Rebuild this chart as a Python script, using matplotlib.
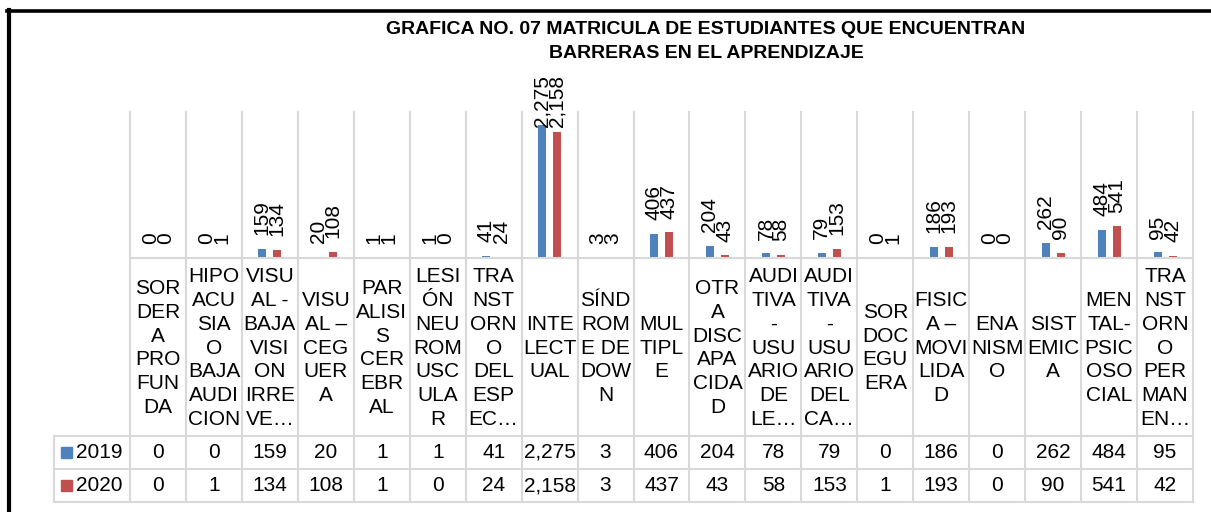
import matplotlib
matplotlib.use("Agg")
import matplotlib.pyplot as plt
from matplotlib.lines import Line2D
from matplotlib.patches import Rectangle

plt.rcParams['font.family'] = ['Liberation Sans', 'DejaVu Sans']

# ---------------- data ----------------
categories = [
    "SOR\nDER\nA\nPRO\nFUN\nDA",
    "HIPO\nACU\nSIA\nO\nBAJA\nAUDI\nCION",
    "VISU\nAL -\nBAJA\nVISI\nON\nIRRE\nVE…",
    "VISU\nAL –\nCEG\nUER\nA",
    "PAR\nALISI\nS\nCER\nEBR\nAL",
    "LESI\nÓN\nNEU\nROM\nUSC\nULA\nR",
    "TRA\nNST\nORN\nO\nDEL\nESP\nEC…",
    "INTE\nLECT\nUAL",
    "SÍND\nROM\nE DE\nDOW\nN",
    "MUL\nTIPL\nE",
    "OTR\nA\nDISC\nAPA\nCIDA\nD",
    "AUDI\nTIVA\n-\nUSU\nARIO\nDE\nLE…",
    "AUDI\nTIVA\n-\nUSU\nARIO\nDEL\nCA…",
    "SOR\nDOC\nEGU\nERA",
    "FISIC\nA –\nMOVI\nLIDA\nD",
    "ENA\nNISM\nO",
    "SIST\nEMIC\nA",
    "MEN\nTAL-\nPSIC\nOSO\nCIAL",
    "TRA\nNST\nORN\nO\nPER\nMAN\nEN…",
]
series_names = ["2019", "2020"]
values_2019 = [0, 0, 159, 20, 1, 1, 41, 2275, 3, 406, 204, 78, 79, 0, 186, 0, 262, 484, 95]
values_2020 = [0, 1, 134, 108, 1, 0, 24, 2158, 3, 437, 43, 58, 153, 1, 193, 0, 90, 541, 42]
title_lines = ["GRAFICA NO. 07 MATRICULA DE ESTUDIANTES QUE ENCUENTRAN",
               "BARRERAS EN EL APRENDIZAJE"]

colors = ["#4F81BD", "#C0504D"]
grid_c = "#D9D9D9"

W, H, DPI = 1211, 512, 100
fig = plt.figure(figsize=(W / DPI, H / DPI), dpi=DPI)
fig.patch.set_facecolor("white")

n = len(categories)
x_left, x_right = 130, 1193
col_w = (x_right - x_left) / n
plot_top, plot_bot = 112, 258
row_lab_bot, row1_bot, row2_bot = 436, 469, 502
leg_left = 54

# ---------------- plot area ----------------
ax = fig.add_axes([x_left / W, 1 - plot_bot / H, (x_right - x_left) / W, (plot_bot - plot_top) / H])
ax.set_xlim(0, n)
ax.set_ylim(0, 2500)
ax.axis("off")
for i in range(n + 1):
    ax.plot([i, i], [0, 2500], color=grid_c, lw=1.5, zorder=0, clip_on=False)

off = 0.134
bw = 0.143
fs = 15
labels = []
for k, (vals, c) in enumerate(zip([values_2019, values_2020], colors)):
    xs = [i + 0.5 + (-off if k == 0 else off) for i in range(n)]
    ax.bar(xs, vals, width=bw, color=c, zorder=2)
    for x, v in zip(xs, vals):
        t = ax.annotate(f"{v:,}", xy=(x, v), xytext=(0, 10), textcoords="offset points",
                        rotation=90, ha="center", va="bottom", fontsize=fs,
                        annotation_clip=False, zorder=3)
        labels.append(t)

# keep tall labels below a top limit
fig.canvas.draw()
renderer = fig.canvas.get_renderer()
limit = H - 75
for t in labels:
    bb = t.get_window_extent(renderer)
    if bb.y1 > limit:
        d_px = bb.y1 - limit
        x0, y0 = t.xyann
        t.xyann = (x0, y0 - d_px * 72 / DPI)

# ---------------- table ----------------
tab = fig.add_axes([leg_left / W, 1 - row2_bot / H, (x_right - leg_left) / W, (row2_bot - plot_bot) / H])
leg_units = (x_left - leg_left) / col_w
tab.set_xlim(-leg_units, n)
tab.set_ylim(row2_bot, plot_bot)
tab.axis("off")

lw = 1.5
tab.plot([0, n], [plot_bot, plot_bot], color=grid_c, lw=lw, clip_on=False)
for yy in [row_lab_bot, row1_bot, row2_bot]:
    tab.plot([-leg_units, n], [yy, yy], color=grid_c, lw=lw, clip_on=False)
tab.plot([-leg_units, -leg_units], [row_lab_bot, row2_bot], color=grid_c, lw=lw, clip_on=False)
for i in range(n + 1):
    tab.plot([i, i], [plot_bot, row2_bot], color=grid_c, lw=lw, clip_on=False)

lab_center = (plot_bot + row_lab_bot) / 2 + 1
for i, cat in enumerate(categories):
    tab.text(i + 0.5, lab_center, cat, ha="center", va="center", multialignment="center",
             fontsize=fs, linespacing=1.33)

row_centers = [(row_lab_bot + row1_bot) / 2, (row1_bot + row2_bot) / 2]
for r, (vals, c, name) in enumerate(zip([values_2019, values_2020], colors, series_names)):
    yc = row_centers[r]
    for i, v in enumerate(vals):
        tab.text(i + 0.5, yc, f"{v:,}", ha="center", va="center", fontsize=fs)
    sq_x0 = (61 - x_left) / col_w
    sq_w = 11 / col_w
    tab.add_patch(Rectangle((sq_x0, yc - 5.5), sq_w, 11, color=c, clip_on=False))
    tab.text((76 - x_left) / col_w, yc, name, ha="left", va="center", fontsize=fs)

# ---------------- title ----------------
fig.text(706 / W, 1 - 29 / H, title_lines[0], ha="center", va="center",
         fontsize=14, fontweight="bold")
fig.text(706 / W, 1 - 53 / H, title_lines[1], ha="center", va="center",
         fontsize=14, fontweight="bold")

# ---------------- frame ----------------
fig.add_artist(Line2D([7 / W, 1], [1 - 11 / H, 1 - 11 / H], transform=fig.transFigure,
                      color="black", lw=2.6))
fig.add_artist(Line2D([9 / W, 9 / W], [0, 1 - 9.5 / H], transform=fig.transFigure,
                      color="black", lw=3))

fig.savefig("out.png", dpi=DPI, facecolor="white")
